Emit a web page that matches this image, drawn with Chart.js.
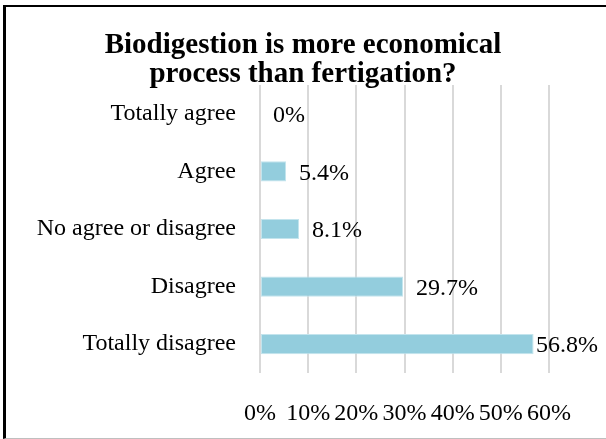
<!DOCTYPE html>
<html>
<head>
<meta charset="utf-8">
<script src="https://cdn.jsdelivr.net/npm/chart.js@4/dist/chart.umd.min.js"></script>
<style>
  html, body { margin: 0; padding: 0; background: #fff; }
  #wrap { position: relative; width: 606px; height: 439px; overflow: hidden; }
  canvas { position: absolute; left: 0; top: 0; }
  #frame {
    position: absolute; left: 3px; top: 5px; width: 640px; height: 431px;
    border-left: 3px solid #000; border-top: 2px solid #000; border-bottom: 1px solid #bfbfbf;
    pointer-events: none;
  }
</style>
</head>
<body>
<div id="wrap">
  <canvas id="c" width="606" height="439"></canvas>
  <div id="frame"></div>
</div>
<script>
// Survey answers, top to bottom
const categories = ['Totally agree', 'Agree', 'No agree or disagree', 'Disagree', 'Totally disagree'];
// Share of respondents, in percent
const shares = [0, 5.4, 8.1, 29.7, 56.8];
const valueLabels = ['0%', '5.4%', '8.1%', '29.7%', '56.8%'];
const axisTicks = [0, 10, 20, 30, 40, 50, 60];
const titleLines = ['Biodigestion is more economical', 'process than fertigation?'];

const FONT = "'Liberation Serif', 'Times New Roman', serif";

// Two-line heading, centred across the whole frame rather than the plot
const frameTitle = {
  id: 'frameTitle',
  beforeDatasetsDraw(chart) {
    const ctx = chart.ctx;
    ctx.save();
    ctx.font = 'bold 29px ' + FONT;
    ctx.fillStyle = '#000';
    ctx.textAlign = 'center';
    ctx.textBaseline = 'alphabetic';
    const cx = chart.width / 2;
    ctx.fillText(titleLines[0], cx, 53);
    ctx.fillText(titleLines[1], cx, 82);
    ctx.restore();
  }
};

// Writes each bar's percentage just past its end, kept inside the frame
const barValueLabels = {
  id: 'barValueLabels',
  afterDatasetsDraw(chart) {
    const ctx = chart.ctx;
    const meta = chart.getDatasetMeta(0);
    ctx.save();
    ctx.font = '24px ' + FONT;
    ctx.fillStyle = '#000';
    ctx.textAlign = 'left';
    ctx.textBaseline = 'middle';
    meta.data.forEach((bar, i) => {
      const text = valueLabels[i];
      const w = ctx.measureText(text).width;
      const x = Math.min(bar.x + 13, chart.width - 8 - w);
      ctx.fillText(text, x, bar.y + 2);
    });
    ctx.restore();
  }
};

new Chart(document.getElementById('c'), {
  type: 'bar',
  data: {
    labels: categories,
    datasets: [{
      data: shares,
      backgroundColor: '#93CDDD',
      borderColor: '#C3E4ED',
      borderWidth: 1,
      borderSkipped: false,
      barPercentage: 0.35,
      categoryPercentage: 1.0
    }]
  },
  options: {
    indexAxis: 'y',
    responsive: false,
    animation: false,
    devicePixelRatio: 1,
    layout: { padding: { left: 0, right: 57, top: 85, bottom: 0 } },
    plugins: {
      legend: { display: false },
      tooltip: { enabled: false },
      title: { display: false }
    },
    scales: {
      x: {
        min: 0,
        max: 60,
        afterBuildTicks(scale) { scale.ticks = axisTicks.map(v => ({ value: v })); },
        afterFit(scale) { scale.height = 66; },
        border: { display: false },
        grid: { color: '#d9d9d9', lineWidth: 2, drawTicks: false },
        ticks: {
          color: '#000',
          padding: 26,
          maxRotation: 0,
          autoSkip: false,
          font: { family: FONT, size: 24 },
          callback: v => v + '%'
        }
      },
      y: {
        afterFit(scale) { scale.width = 260; },
        border: { display: false },
        grid: { display: false, drawTicks: false },
        ticks: {
          color: '#000',
          padding: 24,
          font: { family: FONT, size: 24 }
        }
      }
    }
  },
  plugins: [frameTitle, barValueLabels]
});
</script>
</body>
</html>
